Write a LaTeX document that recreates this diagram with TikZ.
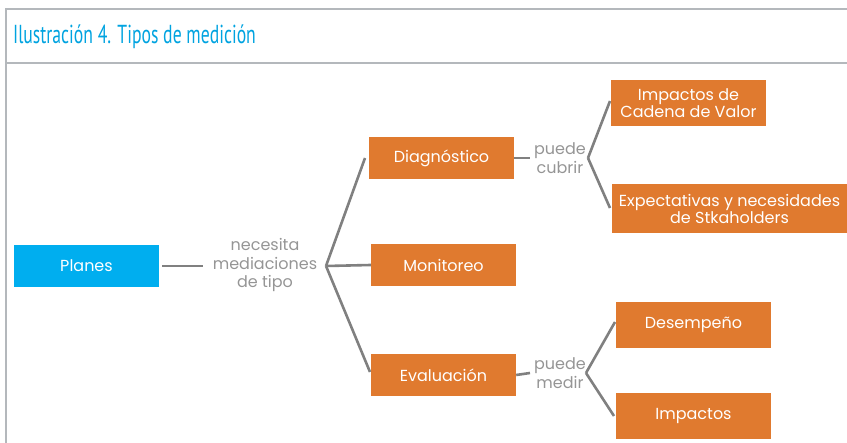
\documentclass[tikz,border=0pt]{standalone}
\usepackage{fontspec}
\setmainfont{Poppins}
\newfontfamily\titlefont{PT Sans}
\definecolor{orangebox}{HTML}{E07A2F}
\definecolor{cyanbox}{HTML}{00AEEF}
\definecolor{titlecyan}{HTML}{00A3E0}
\definecolor{linegray}{HTML}{808080}
\definecolor{textgray}{HTML}{959595}
\definecolor{framegray}{HTML}{B4B8BC}
\begin{document}
\begin{tikzpicture}[x=1pt,y=-1pt,
  box/.style={rectangle, fill=orangebox, text=white, inner sep=0pt, align=center,
    font=\fontsize{16}{17}\selectfont},
  lbl/.style={text=textgray, inner sep=1pt, align=center, font=\fontsize{16}{18.5}\selectfont},
  conn/.style={draw=linegray, line width=2.6pt}]
\useasboundingbox (0,0) rectangle (847,443);
% frame
\draw[framegray, line width=1.5pt] (6,443) -- (6,9) -- (847,9);
\draw[framegray, line width=1.2pt] (6,63) -- (847,63);
\node[anchor=west, text=titlecyan, inner sep=0pt, xscale=0.68, font=\titlefont\fontsize{26}{27}\selectfont] (title) at (13,37) {Ilustración 4. Tipos de medición};
% nodes
\node[box, fill=cyanbox, minimum width=145pt, minimum height=42pt] (planes) at (86.5,266) {Planes};
\node[lbl] (nec) at (265,265) {necesita\\mediaciones\\de tipo};
\coordinate (b1) at (326,266);
\node[box, minimum width=145pt, minimum height=42pt] (diag) at (441.5,158) {Diagnóstico};
\node[box, minimum width=145pt, minimum height=42pt] (moni) at (443.5,265) {Monitoreo};
\node[box, minimum width=145pt, minimum height=42pt] (eval) at (443.5,375) {Evaluación};
\node[lbl] (cub) at (560,158) {puede\\cubrir};
\coordinate (b2) at (588,158);
\node[lbl] (med) at (560,373) {puede\\medir};
\coordinate (b3) at (586,373);
\node[box, minimum width=155pt, minimum height=46pt] (icv) at (688.5,103) {Impactos de\\Cadena de Valor};
\node[box, minimum width=235pt, minimum height=49pt] (exp) at (729.5,208.5) {Expectativas y necesidades\\de Stkaholders};
\node[box, minimum width=155pt, minimum height=46pt] (des) at (693.5,325) {Desempeño};
\node[box, minimum width=155pt, minimum height=46pt] (imp) at (693.5,416) {Impactos};
% connectors
\draw[conn] (planes.east) ++(3,0) coordinate (p1) -- (203,266) coordinate (p2);
\draw[conn] (b1) -- (365,158) coordinate (d1);
\draw[conn] (b1) -- (moni.west);
\draw[conn] (b1) -- (370,372) coordinate (e1);
\draw[conn] (diag.east) -- (530,158) coordinate (c1);
\draw[conn] (b2) -- (610,101) coordinate (c2);
\draw[conn] (b2) -- (610,208) coordinate (c3);
\draw[conn] (eval.east) -- (530,373) coordinate (m1);
\draw[conn] (b3) -- (615,322) coordinate (m2);
\draw[conn] (b3) -- (614,416) coordinate (m3);
\end{tikzpicture}
\end{document}
